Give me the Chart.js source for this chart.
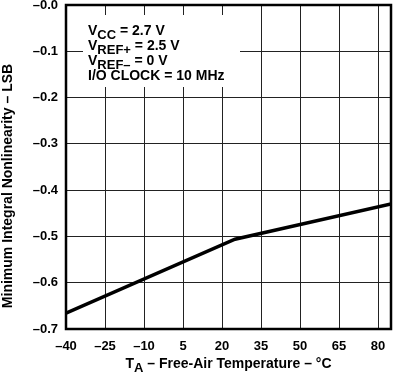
<!DOCTYPE html>
<html>
<head>
<meta charset="utf-8">
<script src="https://cdn.jsdelivr.net/npm/chart.js@4"></script>
<style>
  html, body { margin: 0; padding: 0; background: #fff; }
  #wrap { width: 394px; height: 374px; }
</style>
</head>
<body>
<div id="wrap"><canvas id="myChart" width="394" height="374"></canvas></div>
<script>
// values
const temps = [-40, 25, 85];
const inl = [-0.666, -0.506, -0.43];
const xTicks = [-40, -25, -10, 5, 20, 35, 50, 65, 80];
const yTicks = [0, -0.1, -0.2, -0.3, -0.4, -0.5, -0.6, -0.7];
const noteLines = [
  ["V", "CC", " = 2.7 V"],
  ["V", "REF+", " = 2.5 V"],
  ["V", "REF\u2013", " = 0 V"],
  ["I/O CLOCK = 10 MHz", "", ""],
];

const FONT = "'Liberation Sans', Arial, Helvetica, sans-serif";

function dash(v) {
  return "\u2013" + Math.abs(v).toFixed(1);
}

// draws a piece of text with a subscript part
function drawSub(ctx, x, y, main, sub, rest, size) {
  ctx.font = "bold " + size + "px " + FONT;
  ctx.fillText(main, x, y);
  x += ctx.measureText(main).width;
  if (sub) {
    ctx.font = "bold " + (size - 1) + "px " + FONT;
    ctx.fillText(sub, x, y + 4);
    x += ctx.measureText(sub).width;
  }
  ctx.font = "bold " + size + "px " + FONT;
  ctx.fillText(rest, x, y);
}

function subWidth(ctx, main, sub, rest, size) {
  ctx.font = "bold " + size + "px " + FONT;
  let w = ctx.measureText(main).width + ctx.measureText(rest).width;
  ctx.font = "bold " + (size - 1) + "px " + FONT;
  return w + ctx.measureText(sub).width;
}

const extras = {
  id: "extras",
  afterDraw(chart) {
    const ctx = chart.ctx;
    const a = chart.chartArea;
    ctx.save();

    // frame
    ctx.strokeStyle = "#000";
    ctx.lineWidth = 2.5;
    ctx.strokeRect(a.left, a.top, a.right - a.left, a.bottom - a.top);

    // conditions box
    const bx = a.left + 17, by = a.top + 10;
    ctx.fillStyle = "#fff";
    ctx.fillRect(bx, by, 157, 72);
    ctx.fillStyle = "#000";
    ctx.textBaseline = "alphabetic";
    ctx.textAlign = "left";
    noteLines.forEach((l, i) => {
      drawSub(ctx, bx + 5, by + 20 + i * 15, l[0], l[1], l[2], 14);
    });

    // x axis title
    const xt = " \u2013 Free-Air Temperature \u2013 \u00b0C";
    const w = subWidth(ctx, "T", "A", xt, 14);
    drawSub(ctx, (a.left + a.right) / 2 - w / 2, 368, "T", "A", xt, 14);

    // y axis title
    ctx.translate(12, a.top + 181);
    ctx.rotate(-Math.PI / 2);
    ctx.textAlign = "center";
    ctx.font = "bold 14px " + FONT;
    ctx.fillText("Minimum Integral Nonlinearity \u2013 LSB", 0, 0);
    ctx.restore();
  },
};

const ctx = document.getElementById("myChart");

const chart = new Chart(ctx, {
  type: "line",
  data: {
    datasets: [
      {
        data: temps.map((t, i) => ({ x: t, y: inl[i] })),
        borderColor: "#000",
        borderWidth: 3.5,
        fill: false,
        tension: 0,
        pointRadius: 0,
      },
    ],
  },
  options: {
    responsive: false,
    animation: false,
    layout: { padding: { top: 5, right: 3, left: 0, bottom: 0 } },
    scales: {
      x: {
        type: "linear",
        min: -40,
        max: 85,
        afterBuildTicks: (s) => {
          s.ticks = xTicks.map((v) => ({ value: v }));
        },
        afterFit: (s) => {
          s.height = 45;
          s.paddingLeft = 0;
          s.paddingRight = 0;
        },
        grid: { color: "#222", lineWidth: 1, drawTicks: false },
        border: { display: false },
        ticks: {
          padding: 10,
          color: "#000",
          maxRotation: 0,
          autoSkip: false,
          font: { family: FONT, size: 13, weight: "bold" },
          callback: (v) => (v < 0 ? "\u2013" + Math.abs(v) : String(v)),
        },
      },
      y: {
        min: -0.7,
        max: 0,
        afterBuildTicks: (s) => {
          s.ticks = yTicks.map((v) => ({ value: v }));
        },
        afterFit: (s) => {
          s.width = 66;
          s.paddingTop = 0;
          s.paddingBottom = 0;
        },
        grid: { color: "#222", lineWidth: 1, drawTicks: false },
        border: { display: false },
        ticks: {
          padding: 8,
          color: "#000",
          autoSkip: false,
          font: { family: FONT, size: 13, weight: "bold" },
          callback: (v) => dash(v),
        },
      },
    },
    plugins: {
      legend: { display: false },
      tooltip: { enabled: false },
    },
  },
  plugins: [extras],
});
</script>
</body>
</html>
